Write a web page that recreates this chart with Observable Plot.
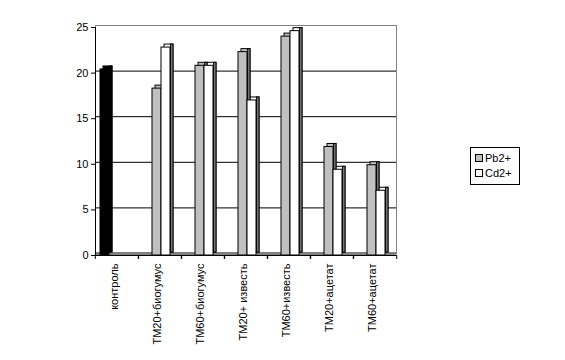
<!DOCTYPE html>
<html><head><meta charset="utf-8">
<script src="https://cdn.jsdelivr.net/npm/d3@7"></script>
<script src="https://cdn.jsdelivr.net/npm/@observablehq/plot@0.6"></script>
<style>
body{margin:0;background:#fff;font-family:"Liberation Sans",Arial,sans-serif;}
#wrap{position:relative;width:565px;height:360px;overflow:hidden;}
#legend{position:absolute;left:470px;top:147px;width:48px;height:36px;border:1px solid #000;font-size:11px;color:#000;background:#fff;}
.item{position:absolute;left:4px;height:13px;line-height:13px;}
.sw{display:inline-block;width:6px;height:6px;border:1px solid #000;margin-right:2px;vertical-align:0px;}
</style></head>
<body><div id="wrap"><div id="chart"></div>
<div id="legend"></div></div>
<script>
const categories = ["контроль","ТМ20+биогумус","ТМ60+биогумус","ТМ20+ известь","ТМ60+известь","ТМ20+ацетат","ТМ60+ацетат"];
const series = ["контроль","Pb2+","Cd2+"];
const legendSeries = ["Pb2+","Cd2+"];
const controlValues = [20.4, null, null, null, null, null, null];
const pbValues = [null, 18.3, 20.8, 22.3, 24.0, 11.9, 9.9];
const cdValues = [null, 22.8, 20.8, 17.0, 24.6, 9.4, 7.1];
const yTicks = [0, 5, 10, 15, 20, 25];
const gridValues = [5, 10, 15, 20];

const faceColor = {"контроль":"#000000","Pb2+":"#c0c0c0","Cd2+":"#ffffff"};
const sideColor = {"контроль":"#000000","Pb2+":"#808080","Cd2+":"#808080"};

const data = [];
categories.forEach((c,i)=>{
  [[series[0],controlValues],[series[1],pbValues],[series[2],cdValues]].forEach(([s,arr])=>{
    if (arr[i] != null) data.push({cat:c, series:s, value:arr[i]});
  });
});

const bar = (extra) => Plot.barY(data, Object.assign({fx:"cat", x:"series", y:"value", stroke:"#000", strokeWidth:1}, extra));

const chart = Plot.plot({
  width:565, height:360,
  marginLeft:93, marginRight:168, marginTop:27, marginBottom:105,
  style:{fontFamily:"'Liberation Sans', Arial, sans-serif", fontSize:"11px", background:"#fff", color:"#000"},
  fx:{domain:categories, padding:0, label:null, axis:null},
  x:{domain:series, paddingInner:0, paddingOuter:0.76, align:0.34, axis:null},
  y:{domain:[0,25], label:null, axis:null},
  color:{type:"identity"},
  marks:[
    Plot.frame({facet:"super", stroke:"#808080", dy:-2}),
    Plot.ruleY(gridValues, {stroke:"#000", dy:-2}),
    Plot.ruleY([0], {stroke:"#808080", strokeWidth:3, dy:-2}),
    bar({fill:d=>faceColor[d.series], dx:3, dy:-3}),
    bar({fill:d=>sideColor[d.series], dx:3, dy:-3, insetLeft:6.6}),
    bar({fill:d=>faceColor[d.series]}),
    Plot.frame({facet:"super", anchor:"left", stroke:"#000"}),
    Plot.frame({facet:"super", anchor:"bottom", stroke:"#000"}),
    Plot.axisY({ticks:yTicks, tickSize:4, tickPadding:3, label:null, fontSize:11}),
    Plot.axisFx({anchor:"bottom", tickRotate:-90, tickSize:0, tickPadding:8, label:null, fontSize:11, dx:-3}),
    Plot.axisFx({anchor:"bottom", tickSize:4, text:null, label:null, dx:-21.7}),
    Plot.axisFx({anchor:"bottom", tickSize:4, text:null, label:null, dx:21.7})
  ]
});
document.getElementById("chart").appendChild(chart);

const lg = document.getElementById("legend");
legendSeries.forEach((s,i)=>{
  const it = document.createElement("div");
  it.className = "item";
  it.style.top = (4 + i*15) + "px";
  it.innerHTML = `<span class="sw" style="background:${faceColor[s]}"></span>${s}`;
  lg.appendChild(it);
});
</script>
</body></html>
